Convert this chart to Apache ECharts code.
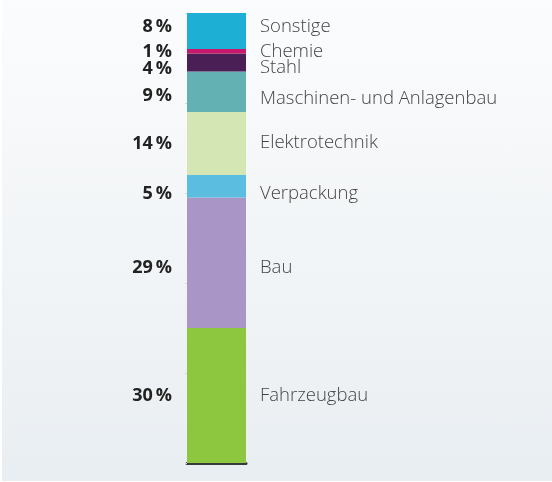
<!DOCTYPE html>
<html>
<head>
<meta charset="utf-8">
<script src="https://cdn.jsdelivr.net/npm/echarts@6/dist/echarts.min.js"></script>
<style>
  html, body { margin: 0; padding: 0; background: #ffffff; }
  #panel {
    position: absolute; left: 2px; top: 0; width: 550px; height: 481px;
    background: linear-gradient(to bottom, #fbfcfd 0%, #f2f5f7 50%, #e9eef2 100%);
  }
  #chart { position: absolute; left: 0; top: 0; width: 552px; height: 482px; }
</style>
</head>
<body>
<div id="panel"></div>
<div id="chart"></div>
<script>
  // segments from bottom to top
  const sectors = ['Fahrzeugbau', 'Bau', 'Verpackung', 'Elektrotechnik',
    'Maschinen- und Anlagenbau', 'Stahl', 'Chemie', 'Sonstige'];
  const shares = [30, 29, 5, 14, 9, 4, 1, 8];
  const colors = ['#8dc63f', '#a995c6', '#5bbde0', '#d3e6b3',
    '#63b1b3', '#4a1f56', '#c8186e', '#1eafd4'];

  // small vertical nudges so the labels don't collide at the top
  const pctNudge = [0, 5, 8, 0, 4, 6, 1, -4];
  const nameNudge = [0, 5, 7, -1, 7, 5, 0, -4];

  const chart = echarts.init(document.getElementById('chart'));

  const series = [];
  sectors.forEach((name, i) => {
    // colored segment with the percentage on the left
    series.push({
      name: name,
      type: 'bar',
      stack: 'share',
      barWidth: '100%',
      barGap: '-100%',
      data: [shares[i]],
      itemStyle: { color: colors[i] },
      label: {
        show: true,
        position: 'left',
        distance: 15,
        offset: [0, pctNudge[i]],
        formatter: (p) => p.value + '\u2009%',
        fontFamily: 'Open Sans',
        fontWeight: 'bold',
        fontSize: 18,
        color: '#222222',
      },
      z: 2,
    });
  });
  sectors.forEach((name, i) => {
    // transparent twin carrying the sector name on the right
    series.push({
      name: name + '_label',
      type: 'bar',
      stack: 'names',
      barWidth: '100%',
      barGap: '-100%',
      data: [shares[i]],
      itemStyle: { color: 'rgba(0,0,0,0)' },
      label: {
        show: true,
        position: 'right',
        distance: 14,
        offset: [0, nameNudge[i]],
        formatter: () => name,
        fontFamily: 'Open Sans',
        fontWeight: 300,
        fontSize: 18.5,
        color: '#444444',
      },
      z: 1,
    });
  });

  chart.setOption({
    animation: false,
    backgroundColor: 'transparent',
    grid: { left: 187, top: 13, width: 59, bottom: 19 },
    xAxis: {
      type: 'category',
      data: [''],
      offset: 2,
      axisLine: { show: true, lineStyle: { color: '#3a3a3a', width: 3 } },
      axisTick: { show: false },
      axisLabel: { show: false },
    },
    yAxis: {
      type: 'value',
      min: 0,
      max: 100,
      interval: 20,
      splitLine: { show: false },
      axisLine: { show: false },
      axisLabel: { show: false },
      axisTick: { show: true, length: 2, lineStyle: { color: '#d4d8dc' } },
    },
    series: series,
  });
</script>
</body>
</html>
